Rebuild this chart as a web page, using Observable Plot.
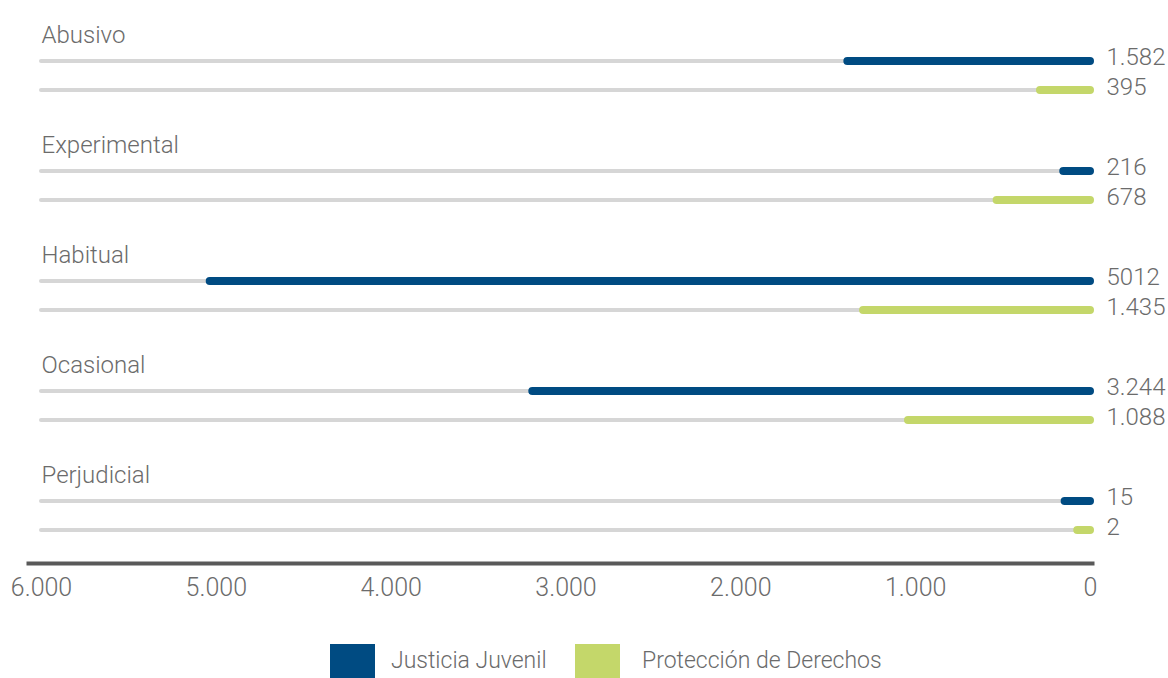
<!DOCTYPE html>
<html>
<head>
<meta charset="utf-8">
<script src="https://cdn.jsdelivr.net/npm/d3@7"></script>
<script src="https://cdn.jsdelivr.net/npm/@observablehq/plot@0.6"></script>
<style>
  html, body { margin: 0; padding: 0; background: #fff; }
  body { width: 1168px; height: 678px; overflow: hidden; font-family: Roboto, "Open Sans", sans-serif; font-weight: 300; color: #6b6b6b; }
  #legend { position: relative; height: 66px; }
  .sw { position: absolute; top: 32px; width: 45px; height: 34px; }
  .lt { position: absolute; top: 35px; font-size: 23px; line-height: 28px; white-space: nowrap; }
</style>
</head>
<body>
<div id="chart"></div>
<div id="legend"></div>
<script>
// Categories and values
const categories = ["Abusivo", "Experimental", "Habitual", "Ocasional", "Perjudicial"];
// printed value labels
const justiciaLabels = ["1.582", "216", "5012", "3.244", "15"];
const proteccionLabels = ["395", "678", "1.435", "1.088", "2"];
// drawn bar lengths (as measured on the reference axis)
const justiciaBars = [1388, 153, 5035, 3190, 145];
const proteccionBars = [286, 534, 1298, 1041, 73];
const xTicks = [6000, 5000, 4000, 3000, 2000, 1000, 0];
const seriesNames = ["Justicia Juvenil", "Protección de Derechos"];
const seriesColors = ["#004b82", "#c4d76a"];

const rows = categories.map((c, i) => ({
  cat: c,
  jj: justiciaBars[i], pd: proteccionBars[i],
  jjLabel: justiciaLabels[i], pdLabel: proteccionLabels[i]
}));

const fmt = d3.formatLocale({decimal: ",", thousands: ".", grouping: [3], currency: ["", ""]}).format(",d");

const OFF = 14.5;
const chart = Plot.plot({
  width: 1168,
  height: 612,
  marginLeft: 41,
  marginRight: 78,
  marginTop: 0,
  marginBottom: 49,
  style: {fontFamily: "Roboto, 'Open Sans', sans-serif", fontWeight: 300, color: "#6b6b6b", background: "#fff"},
  x: {domain: [6000, 0]},
  y: {type: "point", domain: categories, range: [73.5, 515.5], padding: 0, axis: null},
  marks: [
    // grey tracks
    Plot.ruleY(rows, {y: "cat", x1: 6000, x2: 0, dy: -OFF, stroke: "#d6d6d6", strokeWidth: 4, strokeLinecap: "round"}),
    Plot.ruleY(rows, {y: "cat", x1: 6000, x2: 0, dy: OFF, stroke: "#d6d6d6", strokeWidth: 4, strokeLinecap: "round"}),
    // value bars
    Plot.ruleY(rows, {y: "cat", x1: "jj", x2: 0, dy: -OFF, stroke: seriesColors[0], strokeWidth: 8, strokeLinecap: "round"}),
    Plot.ruleY(rows, {y: "cat", x1: "pd", x2: 0, dy: OFF, stroke: seriesColors[1], strokeWidth: 8, strokeLinecap: "round"}),
    // value labels
    Plot.text(rows, {y: "cat", x: 0, text: "jjLabel", dx: 16, dy: -OFF - 4, textAnchor: "start", fontSize: 24, fill: "#6b6b6b"}),
    Plot.text(rows, {y: "cat", x: 0, text: "pdLabel", dx: 16, dy: OFF - 3, textAnchor: "start", fontSize: 24, fill: "#6b6b6b"}),
    // category labels
    Plot.text(rows, {y: "cat", x: 6000, text: "cat", dx: 0, dy: -40, textAnchor: "start", fontSize: 24, fill: "#6b6b6b"}),
    // axis line
    Plot.frame({anchor: "bottom", stroke: "#595959", strokeWidth: 4, insetLeft: -13, insetRight: -2}),
    Plot.axisX({ticks: xTicks, tickSize: 0, tickPadding: 15, tickFormat: fmt, fontSize: 25, fill: "#6b6b6b", label: null})
  ]
});
document.getElementById("chart").appendChild(chart);

// legend
const legend = document.getElementById("legend");
const legendPos = [{sw: 330, tx: 391}, {sw: 575, tx: 642}];
seriesNames.forEach((name, i) => {
  const s = document.createElement("div");
  s.className = "sw";
  s.style.left = legendPos[i].sw + "px";
  s.style.background = seriesColors[i];
  legend.appendChild(s);
  const t = document.createElement("div");
  t.className = "lt";
  t.style.left = legendPos[i].tx + "px";
  t.textContent = name;
  legend.appendChild(t);
});
</script>
</body>
</html>
